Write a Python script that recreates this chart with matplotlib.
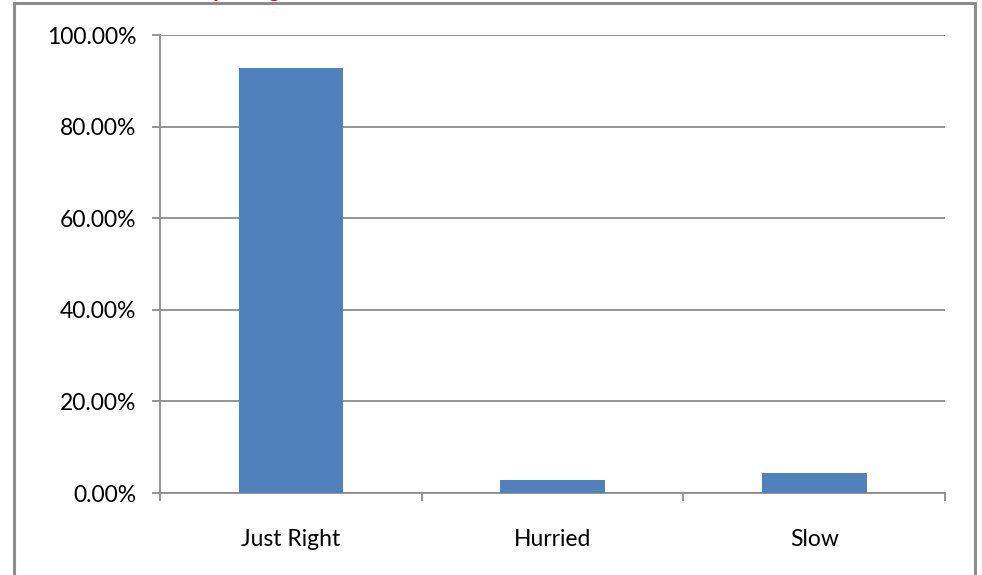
import matplotlib.pyplot as plt
from matplotlib.patches import Rectangle
from matplotlib.ticker import FuncFormatter

categories = ["Just Right", "Hurried", "Slow"]
values = [92.75, 2.9, 4.35]
yticks = [0, 20, 40, 60, 80, 100]

W, H = 982, 575
fig = plt.figure(figsize=(W / 100, H / 100), dpi=100)
plt.rcParams['font.family'] = ['Lato', 'DejaVu Sans']

# outer chart-area border (bottom is cut off in the picture)
fig.patches.append(Rectangle((14 / W, -0.05), (975 - 14) / W, 1.05 - 3 / H,
                             transform=fig.transFigure, fill=False,
                             edgecolor="#8c8c8c", linewidth=2.2, clip_on=False))

# title clipped at the top edge, only the descender tips show
fig.text(212 / W, 1 + 3 / H, "pacing", color="red", fontsize=17,
         fontweight="bold", va="baseline", ha="left")

ax = fig.add_axes([160 / W, 1 - 493 / H, (945 - 160) / W, (493 - 35) / H])
x = list(range(len(categories)))
ax.bar(x, values, width=0.4, color="#4F81BD", zorder=3)

ax.set_xlim(-0.5, len(categories) - 0.5)
ax.set_ylim(0, 100)
ax.set_yticks(yticks)
ax.yaxis.set_major_formatter(FuncFormatter(lambda v, p: f"{v:.2f}%"))
ax.yaxis.grid(True, color="#8c8c8c", linewidth=1.3, zorder=0)

ax.set_xticks([i - 0.5 for i in range(len(categories) + 1)], minor=False)
ax.set_xticklabels([])
ax.set_xticks(x, minor=True)
ax.set_xticklabels(categories, minor=True)
ax.tick_params(axis="x", which="minor", length=0, pad=26, labelsize=16.5)
ax.tick_params(axis="x", which="major", length=6, color="#8c8c8c", width=1.3)
ax.tick_params(axis="y", length=6, color="#8c8c8c", width=1.3, labelsize=16.5, pad=11)

for s in ["top", "right"]:
    ax.spines[s].set_visible(False)
for s in ["left", "bottom"]:
    ax.spines[s].set_color("#8c8c8c")
    ax.spines[s].set_linewidth(1.3)

fig.savefig("out.png", dpi=100)
